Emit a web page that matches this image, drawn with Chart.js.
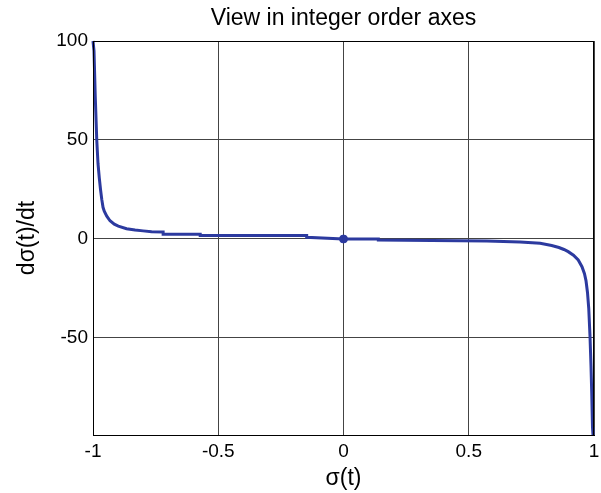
<!DOCTYPE html>
<html>
<head>
<meta charset="utf-8">
<script src="https://cdn.jsdelivr.net/npm/chart.js@4.4.1/dist/chart.umd.min.js"></script>
<style>
  html, body { margin: 0; padding: 0; background: #fff; }
  #wrap { width: 601px; height: 493px; }
</style>
</head>
<body>
<div id="wrap"><canvas id="grafik" width="601" height="493"></canvas></div>
<script>
// sigma(t) values and the matching derivative
const sigma = [-1.0, -0.996, -0.991, -0.985, -0.98, -0.975, -0.97, -0.965, -0.96, -0.955, -0.945, -0.932,
  -0.915, -0.899, -0.866, -0.832, -0.8, -0.766, -0.72, -0.72, -0.572, -0.572, -0.147, -0.147, 0,
  0.139, 0.139, 0.572, 0.705, 0.785, 0.831, 0.86, 0.88, 0.897, 0.918, 0.937, 0.952, 0.962, 0.968,
  0.974, 0.979, 0.984, 0.988, 0.991, 0.994, 0.996];
const dSigma = [100, 95, 72, 50, 38, 31, 25, 20, 16, 14, 11.5, 9.2,
  7.5, 6.5, 5.2, 4.5, 4.1, 3.7, 3.5, 2.4, 2.4, 1.7, 1.7, 0.9, 0,
  0, -0.5, -1, -1.5, -2.2, -3.3, -4.3, -5.3, -6.4, -8.2, -10.6, -14, -17.5, -21,
  -27, -35, -49, -64, -78, -95, -99];
const titik = [{x: 0, y: 0}];

const xTicks = [-1, -0.5, 0, 0.5, 1];
const yTicks = [-50, 0, 50, 100];

const kurva = sigma.map((s, i) => ({x: s, y: dSigma[i]}));

// kotak penuh di sekeliling area plot
const kotak = {
  id: 'kotak',
  afterDatasetsDraw(chart) {
    const a = chart.chartArea;
    const ctx = chart.ctx;
    ctx.save();
    ctx.strokeStyle = '#000';
    ctx.lineWidth = 1;
    ctx.strokeRect(a.left + 0.5, a.top + 0.5, a.right - a.left - 1, a.bottom - a.top);
    ctx.restore();
  }
};

const huruf = 'Liberation Sans, Arial, sans-serif';
const fontTick = {family: huruf, size: 19};
const fontJudul = {family: huruf, size: 23};

new Chart(document.getElementById('grafik'), {
  type: 'scatter',
  data: {
    datasets: [
      {
        data: kurva,
        showLine: true,
        borderColor: '#2c3a9f',
        borderWidth: 3,
        pointRadius: 0,
        tension: 0,
        clip: 2
      },
      {
        data: titik,
        backgroundColor: '#2c3a9f',
        borderColor: '#2c3a9f',
        pointRadius: 4
      }
    ]
  },
  options: {
    responsive: false,
    animation: false,
    layout: {padding: {left: 0, right: 7, top: 0, bottom: 0}},
    plugins: {
      legend: {display: false},
      tooltip: {enabled: false},
      title: {display: false}
    },
    scales: {
      x: {
        type: 'linear',
        min: -1,
        max: 1,
        afterBuildTicks: s => { s.ticks = xTicks.map(v => ({value: v})); },
        afterFit: s => { s.height = 58; s.paddingRight = 0; s.paddingLeft = 0; },
        ticks: {color: '#000', font: fontTick, padding: 5, maxRotation: 0, callback: v => String(v)},
        grid: {color: '#444', lineWidth: 1, drawTicks: false},
        border: {color: '#000', width: 1},
        title: {display: true, text: 'σ(t)', color: '#000', font: fontJudul, padding: {top: 0, bottom: 1}}
      },
      // sumbu atas hanya untuk judul, supaya judul berada di tengah area plot
      judul: {
        type: 'linear',
        position: 'top',
        min: -1,
        max: 1,
        afterFit: s => { s.height = 41; s.paddingRight = 0; s.paddingLeft = 0; },
        ticks: {display: false},
        grid: {display: false, drawTicks: false},
        border: {display: false},
        title: {display: true, text: 'View in integer order axes', color: '#000', font: fontJudul, padding: {top: 5, bottom: 0}}
      },
      y: {
        type: 'linear',
        min: -99,
        max: 100,
        afterBuildTicks: s => { s.ticks = yTicks.map(v => ({value: v})); },
        afterFit: s => { s.width = 93; },
        ticks: {color: '#000', font: fontTick, padding: 5},
        grid: {color: '#444', lineWidth: 1, drawTicks: false},
        border: {color: '#000', width: 1},
        title: {display: true, text: 'dσ(t)/dt', color: '#000', font: fontJudul, padding: {top: 14, bottom: 0}}
      }
    }
  },
  plugins: [kotak]
});
</script>
</body>
</html>
